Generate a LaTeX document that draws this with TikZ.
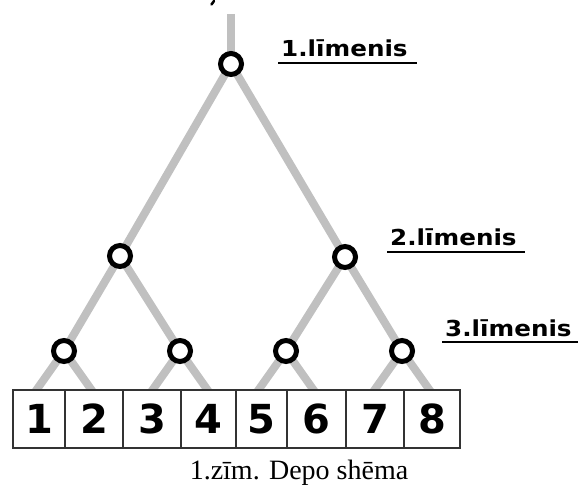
\documentclass[tikz,border=0pt]{standalone}
\usepackage{fontspec}
\usepackage{graphicx}
\setmainfont{Liberation Serif}
\newfontfamily\labfont{DejaVu Sans}
\usetikzlibrary{backgrounds}
\definecolor{branchgray}{HTML}{C0C0C0}
\definecolor{boxline}{HTML}{333333}
\begin{document}
\begin{tikzpicture}[x=1pt,y=-1pt,
  junction/.style={circle,draw=black,line width=5pt,minimum size=21pt,inner sep=0pt,fill=white},
  branch/.style={draw=branchgray,line width=8pt},
  cell/.style={draw=boxline,line width=1.5pt,fill=white,minimum height=58pt,inner sep=0pt,
    font=\labfont\bfseries\fontsize{40}{40}\selectfont},
  level/.style={font=\labfont\bfseries\fontsize{22}{26}\selectfont,inner sep=0pt,anchor=base west},
  uline/.style={line width=2pt}]
\useasboundingbox (0,0) rectangle (578,486);

% junctions
\node[junction] (n1)  at (231,64)  {};
\node[junction] (n21) at (120,256) {};
\node[junction] (n22) at (345,257) {};
\node[junction] (n31) at (64,351)  {};
\node[junction] (n32) at (180,351) {};
\node[junction] (n33) at (286,351) {};
\node[junction] (n34) at (402,351) {};

% cells
\node[cell,minimum width=52pt] (b1) at (39,419)    {1};
\node[cell,minimum width=58pt] (b2) at (94,419)    {2};
\node[cell,minimum width=58pt] (b3) at (152,419)   {3};
\node[cell,minimum width=55pt] (b4) at (208.5,419) {4};
\node[cell,minimum width=51pt] (b5) at (261.5,419) {5};
\node[cell,minimum width=59pt] (b6) at (316.5,419) {6};
\node[cell,minimum width=58pt] (b7) at (375,419)   {7};
\node[cell,minimum width=56pt] (b8) at (432,419)   {8};

% free ends
\coordinate (top) at (231,14);
\coordinate (e1) at (35,392);
\coordinate (e2) at (93,392);
\coordinate (e3) at (151,392);
\coordinate (e4) at (209,392);
\coordinate (e5) at (257,392);
\coordinate (e6) at (315,392);
\coordinate (e7) at (373,392);
\coordinate (e8) at (431,392);

\begin{scope}[on background layer]
  \draw[branch] (top) -- (n1.center);
  \draw[branch] (n1.center) -- (n21.center);
  \draw[branch] (n1.center) -- (n22.center);
  \draw[branch] (n21.center) -- (n31.center);
  \draw[branch] (n21.center) -- (n32.center);
  \draw[branch] (n22.center) -- (n33.center);
  \draw[branch] (n22.center) -- (n34.center);
  \draw[branch] (n31.center) -- (e1);
  \draw[branch] (n31.center) -- (e2);
  \draw[branch] (n32.center) -- (e3);
  \draw[branch] (n32.center) -- (e4);
  \draw[branch] (n33.center) -- (e5);
  \draw[branch] (n33.center) -- (e6);
  \draw[branch] (n34.center) -- (e7);
  \draw[branch] (n34.center) -- (e8);
\end{scope}

% level labels
\node[level] (l1) at (281,57)  {\scalebox{1.12}[1]{1.līmenis}};
\node[level] (l2) at (390,246) {\scalebox{1.12}[1]{2.līmenis}};
\node[level] (l3) at (445,336) {\scalebox{1.12}[1]{3.līmenis}};
\draw[uline] ([xshift=-3pt,yshift=-6pt]l1.base west) -- ([xshift=9pt,yshift=-6pt]l1.base east);
\draw[uline] ([xshift=-3pt,yshift=-6pt]l2.base west) -- ([xshift=8pt,yshift=-6pt]l2.base east);
\draw[uline] ([xshift=-3pt,yshift=-6pt]l3.base west) -- ([xshift=8pt,yshift=-6pt]l3.base east);

% small cut-off mark at top
\draw[line width=2.5pt,line cap=round] (214,1) -- (211.5,4.5);

% caption
\node[font=\fontsize{28}{32}\selectfont,anchor=base,inner sep=0pt] (cap) at (299,479.5) {1.zīm. Depo shēma};
\end{tikzpicture}
\end{document}
